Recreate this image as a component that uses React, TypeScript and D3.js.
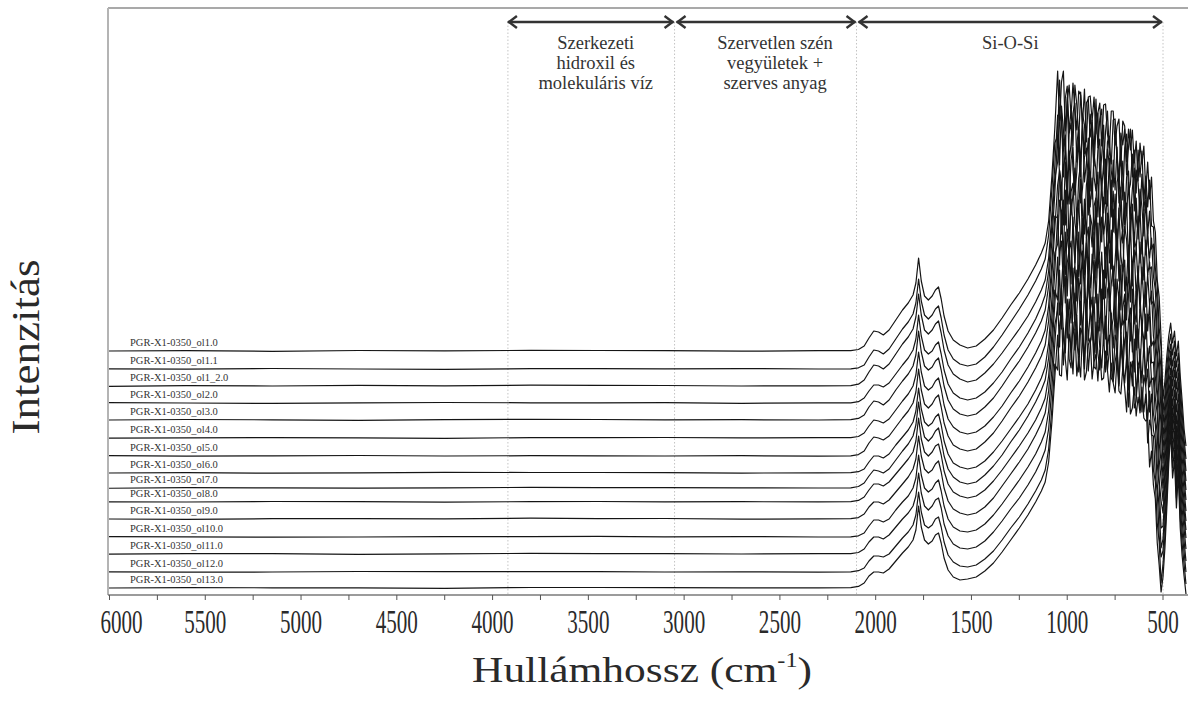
import React from "react";
import * as d3 from "d3";

// Wavenumber grid (cm-1) shared by every spectrum
const wavenumbers = [
  6020, 5600, 5150, 4700, 4250, 3800, 3450, 3100, 2700, 2300,
  2130, 2090, 2060, 2035, 2010, 1985, 1960, 1930, 1895, 1860, 1830, 1805, 1790, 1776, 1762,
  1745, 1725, 1705, 1688, 1672, 1658, 1643, 1622, 1595, 1560, 1520, 1475, 1430, 1385, 1340,
  1295, 1250, 1205, 1165,
  1135, 1115, 1097, 1080, 1065,
  1050, 1040, 1030, 1020, 1010, 1000, 990, 980, 970, 960, 950, 940, 930, 920, 910, 900, 890,
  880, 870, 860, 850, 840, 830, 820, 810, 800, 790, 780, 770, 760, 750, 740, 730, 720, 710,
  700, 690, 680, 670, 660, 650, 640, 630, 620, 610, 600, 590, 580, 570, 560, 550, 540, 530,
  520, 510, 500, 490, 480, 470, 460, 450, 440, 430, 420, 410, 400, 390, 380,
];

const sampleNames = [
  "PGR-X1-0350_ol1.0", "PGR-X1-0350_ol1.1", "PGR-X1-0350_ol1_2.0", "PGR-X1-0350_ol2.0",
  "PGR-X1-0350_ol3.0", "PGR-X1-0350_ol4.0", "PGR-X1-0350_ol5.0", "PGR-X1-0350_ol6.0",
  "PGR-X1-0350_ol7.0", "PGR-X1-0350_ol8.0", "PGR-X1-0350_ol9.0", "PGR-X1-0350_ol10.0",
  "PGR-X1-0350_ol11.0", "PGR-X1-0350_ol12.0", "PGR-X1-0350_ol13.0",
];

// Vertical stacking offset of each spectrum (a.u.)
const offsets = [244, 226, 209, 192, 175, 157, 139, 122, 107, 93, 76, 58, 41, 23, 7];

// Intensities (a.u., relative to each spectrum's own baseline), one value per wavenumber
const ol1_0 = [0, 0.4, -0.3, 0.5, 0.2, 0.6, 0.5, 0.4, -0.2, 0.3,
  0.3, 1.5, 5, 13, 20, 19, 16, 21, 31, 41, 48, 56, 68, 93, 70, 55, 51, 55, 61, 64, 52, 35, 20, 11, 6, 3, 5, 12, 21, 33, 46, 58, 72, 86,
  98, 108, 130, 175, 222,
  280, 230, 269, 280, 220, 250, 266, 235, 268, 242, 221, 260, 256, 227, 262, 209, 254, 255, 230, 254, 217, 238, 248, 205, 246, 247, 217, 203, 240, 240, 206, 225, 232, 185, 230, 225, 189, 222, 201, 221, 188, 210, 170, 208, 187, 205, 160, 189, 152, 174, 130, 119, 71, 54, 13,
  -48, -30, -5, 15, 28, 8, 20, -5, 10, -25, -50, -78, -95];
const ol1_1 = [0.2, -0.2, 0.5, 0, -0.4, 0.3, 0.3, 0.1, 0.4, 0,
  0.2, 1.2, 4, 12, 19, 18, 15, 20, 30, 40, 47, 55, 66, 90, 68, 54, 50, 54, 60, 63, 51, 34, 19, 10, 5, 3, 5, 12, 22, 34, 47, 60, 74, 88,
  100, 110, 134, 180, 226,
  233, 289, 246, 218, 271, 283, 236, 260, 223, 284, 264, 229, 277, 242, 215, 266, 270, 232, 249, 216, 270, 221, 250, 260, 205, 237, 258, 216, 205, 249, 250, 214, 188, 236, 224, 240, 194, 222, 240, 192, 219, 176, 219, 192, 218, 169, 193, 162, 189, 143, 142, 101, 84, 41, 22,
  -44, -25, 2, 22, 35, 14, 28, 2, 16, -18, -44, -70, -90];
const ol1_2_0 = [-0.3, 0.3, 0, 0.6, 0.1, 0.8, 0.6, 0.5, 0, 0.2,
  0.4, 1.8, 6, 14, 21, 20, 17, 22, 32, 42, 49, 57, 69, 92, 71, 56, 52, 56, 62, 65, 53, 36, 21, 12, 7, 4, 6, 13, 22, 33, 45, 57, 70, 84,
  96, 106, 128, 172, 220,
  271, 221, 280, 256, 233, 289, 224, 242, 273, 283, 224, 257, 209, 272, 261, 230, 213, 272, 253, 220, 258, 273, 208, 230, 261, 197, 244, 250, 215, 199, 255, 230, 198, 236, 186, 238, 252, 194, 202, 232, 175, 216, 203, 170, 212, 175, 197, 152, 175, 137, 142, 104, 84, 37, 18,
  -39, -18, 8, 30, 42, 20, 34, 8, 22, -12, -38, -62, -85];
const ol2_0 = [0.3, 0, -0.4, 0.2, 0.5, 0.2, 0.2, 0.3, -0.3, 0.1,
  0.2, 1.3, 5, 12, 18, 18, 16, 20, 29, 38, 45, 53, 64, 88, 67, 53, 49, 52, 58, 61, 49, 33, 19, 10, 5, 3, 5, 11, 20, 31, 44, 56, 70, 84,
  97, 108, 132, 178, 224,
  241, 281, 290, 226, 255, 217, 270, 280, 233, 211, 260, 273, 239, 280, 221, 240, 265, 212, 281, 226, 212, 253, 264, 214, 239, 199, 254, 238, 199, 243, 213, 256, 200, 212, 242, 178, 226, 232, 184, 214, 235, 184, 171, 214, 196, 167, 203, 162, 145, 165, 127, 113, 69, 48, 9,
  -35, -12, 14, 38, 52, 26, 42, 14, 30, -6, -32, -55, -78];
const ol3_0 = [0, 0.5, 0.2, -0.3, 0.3, 0.7, 0.5, 0.2, 0.3, 0,
  0.3, 1.6, 5, 13, 19, 18, 15, 20, 30, 39, 46, 54, 65, 89, 68, 54, 50, 53, 59, 62, 50, 34, 20, 11, 6, 4, 6, 13, 22, 34, 47, 59, 73, 87,
  99, 110, 134, 180, 226,
  285, 245, 220, 272, 285, 231, 216, 260, 273, 225, 248, 283, 217, 232, 263, 272, 205, 248, 221, 266, 250, 203, 256, 228, 207, 261, 214, 262, 203, 229, 187, 238, 246, 204, 188, 228, 206, 238, 186, 216, 173, 222, 181, 210, 166, 211, 165, 190, 151, 153, 121, 110, 69, 48, 8,
  -30, -6, 20, 46, 62, 34, 50, 20, 38, 0, -26, -48, -70];
const ol4_0 = [-0.2, 0.2, 0.4, 0.1, -0.3, 0.4, 0.4, 0.5, 0.1, 0.3,
  0.4, 1.5, 5, 12, 18, 17, 15, 19, 28, 37, 44, 52, 63, 86, 66, 52, 48, 51, 57, 60, 49, 33, 19, 11, 6, 4, 6, 12, 21, 32, 45, 57, 71, 85,
  97, 108, 132, 176, 222,
  220, 268, 255, 213, 276, 234, 287, 223, 244, 270, 213, 260, 274, 223, 204, 253, 266, 231, 260, 203, 239, 266, 215, 259, 204, 218, 247, 195, 258, 206, 244, 191, 227, 251, 195, 205, 235, 175, 221, 225, 176, 189, 222, 175, 199, 158, 198, 163, 176, 134, 137, 98, 79, 36, 15,
  -25, 0, 26, 54, 70, 42, 58, 26, 44, 6, -20, -40, -62];
const ol5_0 = [0.4, -0.1, 0.2, 0.5, 0, 0.3, 0.2, 0, 0.3, -0.2,
  0.2, 1.4, 5, 13, 19, 18, 16, 20, 29, 38, 45, 53, 64, 87, 66, 52, 48, 52, 58, 61, 49, 33, 20, 11, 7, 5, 7, 14, 23, 35, 48, 60, 74, 88,
  100, 111, 135, 181, 227,
  271, 285, 222, 256, 231, 279, 208, 264, 273, 233, 220, 249, 277, 212, 257, 218, 277, 232, 209, 250, 258, 199, 242, 214, 259, 245, 200, 228, 187, 247, 231, 196, 248, 200, 184, 230, 216, 182, 234, 170, 217, 208, 173, 214, 172, 199, 149, 182, 151, 165, 120, 107, 66, 47, 4,
  -20, 6, 32, 62, 80, 50, 66, 32, 52, 12, -14, -34, -55];
const ol6_0 = [0, 0.3, -0.2, 0.2, 0.6, 0.5, 0.5, 0.3, -0.1, 0.2,
  0.3, 1.3, 4, 11, 17, 17, 15, 19, 28, 36, 43, 51, 62, 85, 64, 51, 47, 50, 56, 59, 48, 32, 19, 10, 6, 4, 6, 12, 21, 32, 44, 56, 69, 83,
  95, 106, 130, 174, 220,
  229, 273, 260, 214, 283, 235, 220, 274, 247, 209, 262, 273, 225, 212, 263, 246, 199, 258, 247, 214, 266, 205, 222, 256, 243, 195, 260, 210, 243, 187, 213, 244, 192, 230, 244, 182, 192, 228, 172, 210, 223, 176, 207, 160, 206, 169, 191, 142, 169, 127, 132, 96, 75, 30, 11,
  -15, 12, 38, 70, 90, 58, 74, 38, 60, 18, -8, -28, -48];
const ol7_0 = [-0.3, 0.4, 0.1, -0.2, 0.2, 0.6, 0.3, 0.4, 0.2, 0,
  0.2, 1.5, 5, 12, 18, 17, 15, 19, 28, 37, 44, 52, 63, 86, 65, 51, 47, 51, 57, 60, 48, 32, 19, 11, 6, 4, 6, 13, 22, 33, 46, 58, 72, 86,
  98, 108, 130, 172, 216,
  273, 223, 278, 234, 213, 259, 246, 204, 271, 225, 262, 211, 239, 270, 213, 250, 261, 200, 221, 256, 210, 265, 202, 236, 189, 241, 228, 190, 247, 209, 191, 244, 224, 178, 216, 228, 168, 218, 186, 224, 177, 166, 209, 192, 154, 191, 149, 174, 171, 125, 126, 90, 74, 29, 9,
  -13, 16, 44, 78, 100, 64, 82, 44, 68, 24, -2, -22, -42];
const ol8_0 = [0.2, 0, 0.5, 0.3, -0.2, 0.4, 0.5, 0.1, 0.3, 0.1,
  0.4, 1.6, 5, 12, 18, 18, 16, 20, 28, 36, 43, 50, 61, 84, 63, 50, 46, 50, 56, 58, 47, 31, 18, 10, 6, 4, 6, 12, 21, 32, 44, 56, 69, 82,
  94, 104, 126, 168, 212,
  202, 250, 261, 215, 270, 206, 251, 261, 216, 238, 201, 270, 218, 251, 204, 259, 220, 193, 248, 235, 199, 250, 239, 183, 232, 204, 247, 191, 218, 236, 178, 223, 201, 237, 177, 183, 225, 207, 161, 213, 178, 211, 154, 193, 179, 148, 188, 141, 156, 122, 124, 86, 68, 22, 1,
  -11, 20, 50, 86, 110, 72, 90, 50, 76, 30, 4, -16, -36];
const ol9_0 = [0, -0.3, 0.3, 0.4, 0.1, 0.8, 0.3, 0.5, -0.2, 0.2,
  0.3, 1.4, 5, 12, 17, 17, 15, 19, 27, 35, 42, 50, 60, 83, 63, 50, 46, 49, 55, 58, 47, 31, 18, 10, 6, 4, 6, 12, 21, 33, 45, 57, 70, 84,
  96, 106, 128, 170, 214,
  262, 204, 231, 265, 216, 256, 269, 207, 242, 204, 249, 232, 194, 261, 240, 207, 252, 211, 194, 259, 229, 196, 239, 207, 246, 180, 229, 235, 190, 200, 240, 179, 225, 185, 211, 225, 163, 199, 211, 167, 214, 169, 190, 151, 191, 180, 142, 171, 132, 142, 105, 95, 55, 33, -9,
  -7, 24, 56, 94, 120, 80, 98, 56, 84, 36, 10, -10, -30];
const ol10_0 = [0.3, 0.2, -0.2, 0, 0.4, 0.3, 0.6, 0.2, 0.4, 0,
  0.2, 1.2, 4, 11, 17, 17, 15, 18, 27, 35, 41, 49, 59, 82, 62, 49, 45, 48, 54, 57, 46, 31, 18, 10, 6, 5, 7, 13, 22, 33, 45, 57, 70, 83,
  95, 105, 126, 168, 212,
  227, 267, 208, 250, 261, 199, 238, 214, 269, 207, 224, 259, 243, 196, 249, 210, 259, 228, 197, 240, 184, 243, 206, 248, 193, 221, 182, 236, 221, 189, 225, 170, 232, 202, 174, 232, 178, 164, 214, 194, 165, 212, 155, 188, 154, 193, 151, 168, 125, 143, 107, 97, 53, 29, -11,
  -2, 28, 62, 102, 130, 88, 106, 62, 92, 42, 16, -4, -24];
const ol11_0 = [-0.2, 0.3, 0.4, -0.3, 0.2, 0.6, 0.4, 0.3, 0, 0.3,
  0.3, 1.5, 5, 12, 17, 17, 15, 19, 27, 35, 41, 48, 58, 81, 61, 48, 44, 48, 54, 56, 46, 30, 18, 10, 6, 5, 7, 13, 22, 33, 45, 56, 69, 82,
  94, 104, 125, 166, 210,
  251, 207, 266, 220, 201, 255, 240, 194, 249, 261, 210, 199, 253, 230, 191, 254, 213, 244, 257, 196, 232, 201, 184, 242, 219, 233, 184, 204, 241, 175, 219, 212, 168, 222, 182, 214, 222, 164, 192, 168, 215, 158, 189, 194, 142, 179, 167, 134, 163, 119, 118, 78, 62, 18, -3,
  3, 32, 68, 110, 140, 96, 114, 68, 100, 48, 22, 2, -18];
const ol12_0 = [0.1, -0.2, 0, 0.5, 0.3, 0.4, 0.3, 0, 0.2, -0.1,
  0.2, 1.3, 4, 11, 16, 16, 15, 18, 26, 34, 40, 47, 57, 80, 60, 47, 44, 47, 53, 55, 45, 30, 17, 10, 6, 5, 7, 13, 21, 32, 44, 55, 68, 81,
  92, 102, 123, 164, 208,
  202, 246, 259, 207, 238, 268, 213, 204, 250, 222, 257, 200, 244, 237, 203, 247, 201, 227, 248, 205, 203, 252, 225, 204, 238, 200, 227, 237, 194, 190, 210, 223, 188, 225, 211, 189, 215, 165, 201, 211, 164, 171, 204, 162, 185, 160, 178, 129, 152, 142, 102, 90, 49, 30, -11,
  8, 36, 74, 118, 148, 104, 122, 74, 108, 54, 28, 8, -12];
const ol13_0 = [0, 0.4, 0.2, 0.1, -0.3, 0.5, 0.5, 0.4, 0.1, 0.2,
  0.3, 1.6, 5, 12, 16, 16, 15, 19, 27, 35, 41, 48, 58, 82, 61, 48, 44, 47, 53, 55, 45, 30, 18, 11, 8, 9, 11, 17, 25, 36, 48, 60, 73, 86,
  97, 106, 126, 166, 210,
  253, 213, 212, 260, 229, 208, 254, 242, 214, 259, 212, 229, 211, 258, 208, 216, 243, 250, 209, 226, 234, 207, 238, 208, 210, 237, 218, 196, 225, 205, 195, 230, 197, 194, 220, 200, 176, 220, 174, 180, 201, 172, 191, 175, 192, 170, 167, 168, 121, 137, 103, 89, 45, 23, -4,
  11, 40, 80, 124, 156, 110, 128, 80, 114, 60, 32, 12, -6];

const spectra = [
  ol1_0, ol1_1, ol1_2_0, ol2_0, ol3_0, ol4_0, ol5_0, ol6_0,
  ol7_0, ol8_0, ol9_0, ol10_0, ol11_0, ol12_0, ol13_0,
];

// Axis ticks (cm-1)
const majorTicks = [6000, 5500, 5000, 4500, 4000, 3500, 3000, 2500, 2000, 1500, 1000, 500];
const minorTicks = [5750, 5250, 4750, 4250, 3750, 3250, 2750, 2250, 1750, 1250, 750];

// Spectral regions: boundaries (cm-1) and their captions
const regionBounds = [3920, 3050, 2100, 500];
const regionCaptions = [
  ["Szerkezeti", "hidroxil és", "molekuláris víz"],
  ["Szervetlen szén", "vegyületek +", "szerves anyag"],
  ["Si-O-Si"],
];
const regionCaptionShift = [5, 9, 0];

const W = 1188;
const H = 701;
const plot = { left: 108, top: 8, right: 1188, bottom: 595 };
const serif = "'Liberation Serif', 'Times New Roman', serif";

export default function App() {
  const x = d3.scaleLinear().domain([6000, 500]).range([109.5, 1163]);
  const y = d3.scaleLinear().domain([0, 587]).range([plot.bottom, plot.top]);

  const arrowY = 22;
  const lineGen = (vals: number[], off: number) =>
    d3
      .line<number>()
      .x((_, i) => x(wavenumbers[i]))
      .y((v) => y(off + v))(vals) || "";

  return (
    <svg
      width={W}
      height={H}
      viewBox={`0 0 ${W} ${H}`}
      style={{ position: "absolute", left: 0, top: 0, background: "#fff" }}
    >
      <defs>
        <clipPath id="plotArea">
          <rect x={plot.left + 1} y={plot.top} width={plot.right - plot.left} height={plot.bottom - plot.top + 1} />
        </clipPath>
      </defs>
      <rect x={0} y={0} width={W} height={H} fill="#fff" />

      {/* region separators */}
      {regionBounds.map((b) => (
        <line
          key={"sep" + b}
          x1={x(b)}
          x2={x(b)}
          y1={arrowY}
          y2={plot.bottom}
          stroke="#c4c4c4"
          strokeWidth={1}
          strokeDasharray="1.5,2"
        />
      ))}

      {/* spectra */}
      <g clipPath="url(#plotArea)" fill="none" stroke="#151515" strokeWidth={1.2} strokeLinejoin="round">
        {spectra.map((s, i) => (
          <path key={sampleNames[i]} d={lineGen(s, offsets[i])} />
        ))}
      </g>

      {/* sample labels */}
      {sampleNames.map((n, i) => (
        <text
          key={"lbl" + n}
          x={130}
          y={y(offsets[i]) - 5}
          fontFamily={serif}
          fontSize={10.5}
          fill="#333"
        >
          {n}
        </text>
      ))}

      {/* frame */}
      <line x1={plot.left} x2={plot.right} y1={plot.top} y2={plot.top} stroke="#8c8c8c" strokeWidth={1.5} />
      <line x1={plot.left} x2={plot.left} y1={plot.top} y2={plot.bottom} stroke="#b4b4b4" strokeWidth={2} />
      <line x1={plot.left} x2={plot.right} y1={plot.bottom} y2={plot.bottom} stroke="#7a7a7a" strokeWidth={1.5} />

      {/* ticks */}
      {majorTicks.map((t) => (
        <line key={"mt" + t} x1={x(t)} x2={x(t)} y1={plot.bottom} y2={plot.bottom + 5} stroke="#555" strokeWidth={1} />
      ))}
      {minorTicks.map((t) => (
        <line key={"nt" + t} x1={x(t)} x2={x(t)} y1={plot.bottom} y2={plot.bottom + 5} stroke="#555" strokeWidth={1} />
      ))}
      {majorTicks.map((t, i) => (
        <text
          key={"tl" + t}
          transform={`translate(${x(t) + (i === 0 ? 12 : 0)},633) scale(0.62,1)`}
          textAnchor="middle"
          fontFamily={serif}
          fontSize={34}
          fill="#2a2a2a"
        >
          {t}
        </text>
      ))}

      {/* axis titles */}
      <text
        x={472}
        y={682}
        fontFamily={serif}
        fontSize={36}
        fill="#2a2a2a"
        textLength={340}
        lengthAdjust="spacingAndGlyphs"
      >
        Hullámhossz (cm
        <tspan dy={-15} fontSize={20}>-1</tspan>
        <tspan dy={15}>)</tspan>
      </text>
      <text
        transform="translate(39,347) rotate(-90)"
        textAnchor="middle"
        fontFamily={serif}
        fontSize={39}
        fill="#2a2a2a"
        textLength={175}
        lengthAdjust="spacingAndGlyphs"
      >
        Intenzitás
      </text>

      {/* region arrows and captions */}
      {regionCaptions.map((lines, i) => {
        const x1 = x(regionBounds[i]) + (i === 0 ? 0 : 2);
        const x2 = x(regionBounds[i + 1]) - 1;
        const cx = (x1 + x2) / 2 + regionCaptionShift[i];
        return (
          <g key={"reg" + i}>
            <line x1={x1} x2={x2} y1={arrowY} y2={arrowY} stroke="#333" strokeWidth={2.4} />
            <path
              d={`M${x1 + 9},${arrowY - 6} L${x1 + 1},${arrowY} L${x1 + 9},${arrowY + 6}`}
              fill="none"
              stroke="#333"
              strokeWidth={2.4}
            />
            <path
              d={`M${x2 - 9},${arrowY - 6} L${x2 - 1},${arrowY} L${x2 - 9},${arrowY + 6}`}
              fill="none"
              stroke="#333"
              strokeWidth={2.4}
            />
            {lines.map((t, j) => (
              <text
                key={t}
                x={cx}
                y={49 + j * 20}
                textAnchor="middle"
                fontFamily={serif}
                fontSize={18.5}
                fill="#333"
              >
                {t}
              </text>
            ))}
          </g>
        );
      })}
    </svg>
  );
}
